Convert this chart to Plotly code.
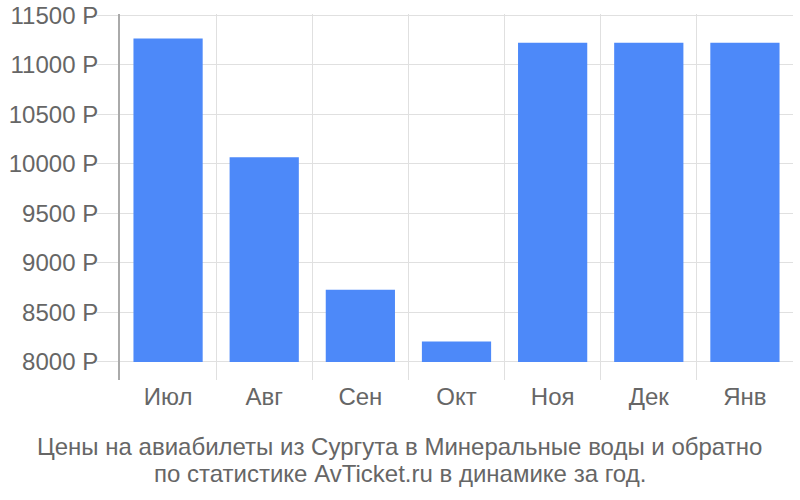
import plotly.graph_objects as go

months = ["Июл", "Авг", "Сен", "Окт", "Ноя", "Дек", "Янв"]
prices = [11268, 10068, 8730, 8207, 11225, 11225, 11225]
base_price = 8000
y_ticks = [8000, 8500, 9000, 9500, 10000, 10500, 11000, 11500]
y_labels = [f"{v} Р" for v in y_ticks]
title_lines = [
    "Цены на авиабилеты из Сургута в Минеральные воды и обратно",
    "по статистике AvTicket.ru в динамике за год.",
]

fig = go.Figure()
fig.add_trace(go.Bar(
    x=months,
    y=[p - base_price for p in prices],
    base=base_price,
    marker=dict(color="#4d89f9", line=dict(width=0)),
    width=0.72,
))

fig.update_layout(
    width=800, height=500,
    margin=dict(l=120, r=7, t=14, b=120, autoexpand=False),
    paper_bgcolor="white", plot_bgcolor="white",
    font=dict(family="Liberation Sans, Arial, sans-serif", color="#666666", size=24),
    showlegend=False,
    bargap=0.28,
)
for line, py in zip(title_lines, [-0.183, -0.256]):
    fig.add_annotation(
        text=line, x=0.416, xref="paper", xanchor="center",
        y=py, yref="paper", yanchor="middle",
        showarrow=False, font=dict(size=24, color="#666666"),
    )

fig.update_xaxes(
    showgrid=True, gridcolor="#e0e0e0", gridwidth=1,
    tickson="boundaries", ticks="", ticklen=0,
    showline=False, zeroline=False, automargin=False,
    tickfont=dict(size=24, color="#666666"),
)
fig.update_yaxes(
    range=[7818, 11515],
    tickvals=y_ticks, ticktext=y_labels,
    showgrid=True, gridcolor="#e0e0e0", gridwidth=1,
    showline=True, linecolor="#aaaaaa", linewidth=2,
    zeroline=False, ticks="outside", ticklen=21, tickcolor="#e0e0e0", tickwidth=1,
    ticklabelstandoff=-6, ticklabeloverflow="allow",
    automargin=False,
    tickfont=dict(size=24, color="#666666"),
)

# remove the browser's default 8px body margin so the figure fills the window exactly
fig.write_html(
    "out.html",
    config={"displayModeBar": False},
    post_script="document.body.style.margin='0px';",
)
